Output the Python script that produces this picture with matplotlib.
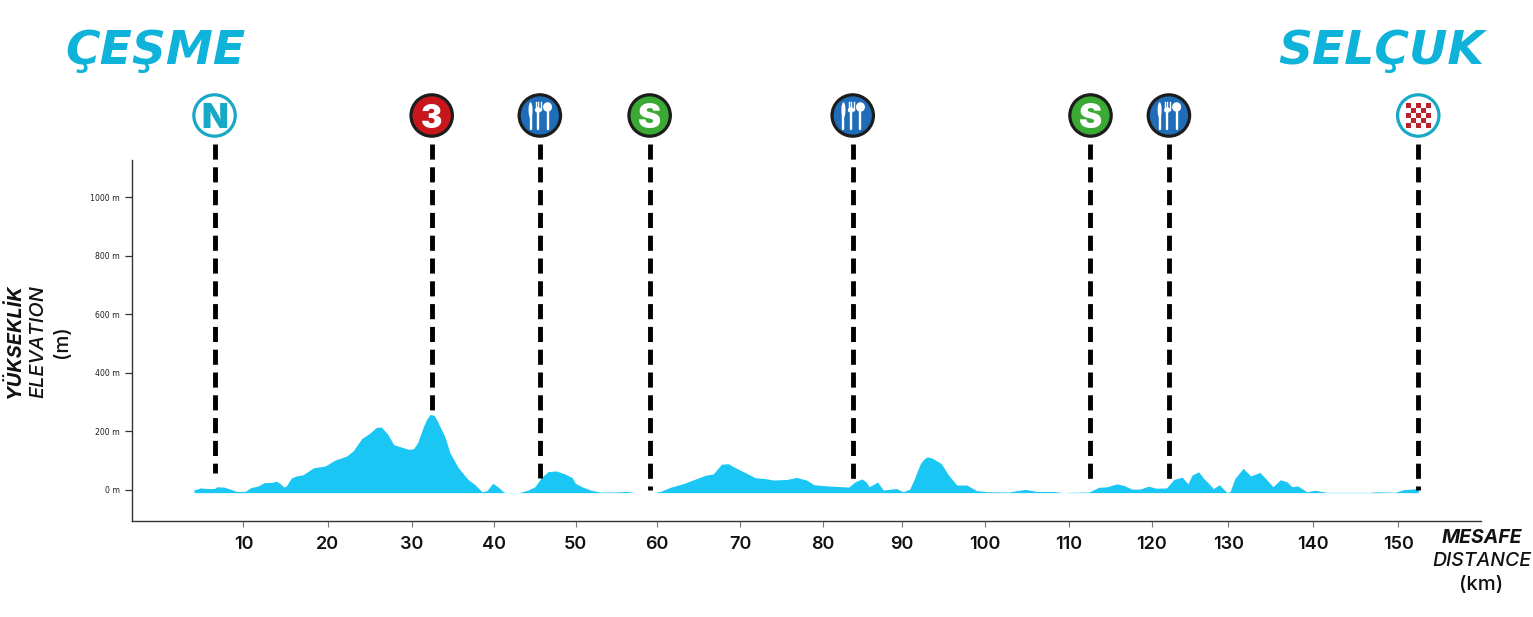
"""Etap yükseklik profili: Çeşme - Selçuk."""

import matplotlib

matplotlib.use("Agg")

import matplotlib.pyplot as plt
from matplotlib.patches import Circle, Ellipse, Rectangle

distance_km = [
    4.0, 4.8, 5.7, 6.5, 6.8, 7.6, 8.4, 9.2, 10.2, 10.9, 11.8, 12.5, 13.4, 14.0, 14.4, 14.9,
    15.2, 15.8, 16.4, 17.2, 18.5, 19.9, 21.0, 22.5, 23.3, 24.3, 25.3, 26.1, 26.7, 27.5, 28.2,
    29.2, 30.0, 30.6, 31.1, 31.8, 32.2, 32.6, 33.1, 33.5, 33.8, 34.4, 35.0, 36.0, 37.2, 38.0, 38.9, 39.5,
    40.2, 40.9, 41.5, 42.3, 43.5, 44.5, 45.3, 46.1, 46.9, 47.9, 48.9, 49.8, 50.2, 51.0, 52.0,
    53.2, 54.8, 56.4, 57.4, 59.7, 60.5, 61.7, 63.3, 64.9, 65.9, 66.9, 67.9, 68.7, 69.6, 70.8,
    72.0, 73.2, 74.2, 75.8, 77.0, 78.2, 79.1, 80.7, 83.3, 84.1, 84.9, 85.4, 85.8, 86.8, 87.5,
    89.1, 89.9, 90.7, 91.2, 92.0, 92.4, 92.8, 93.2, 93.6, 94.5, 95.4, 96.4, 97.6, 98.8, 100.1, 102.7,
    104.7, 106.1, 108.1, 109.3, 110.1, 112.4, 113.6, 114.6, 115.8, 116.6, 117.6, 118.6, 119.6,
    120.6, 121.8, 122.7, 123.7, 124.4, 124.9, 125.7, 126.3, 127.5, 128.2, 129.1, 129.5, 130.1,
    131.1, 132.0, 133.1, 133.8, 134.7, 135.6, 136.4, 137.0, 137.7, 138.8, 139.8, 141.2, 146.5,
    147.3, 149.5, 150.5, 152.3,
]
elevation_m = [
    0, 7, 5, 5, 11, 10, 3, -5, -5, 8, 14, 25, 26, 30, 23, 10,
    14, 41, 48, 52, 76, 82, 101, 116, 134, 175, 194, 214, 215, 190, 155,
    146, 139, 141, 162, 217, 242, 258, 255, 235, 217, 182, 128, 77, 36, 19, -6, -2,
    23, 9, -7, -10, -8, 0, 11, 43, 63, 65, 55, 43, 23, 11, 0,
    -7, -7, -5, -9, -9, -5, 9, 22, 39, 50, 55, 88, 90, 76, 59,
    42, 39, 34, 36, 43, 34, 18, 14, 10, 28, 38, 28, 11, 27, 0,
    5, -6, 3, 34, 91, 105, 113, 111, 106, 91, 51, 17, 17, -2, -6, -7,
    2, -5, -5, -9, -8, -7, 9, 11, 21, 16, 3, 3, 13,
    6, 7, 36, 44, 21, 51, 62, 40, 5, 18, -8, -6, 40,
    74, 48, 60, 40, 11, 35, 28, 11, 14, -6, -1, -8, -8,
    -6, -8, 1, 5,
]

x_tick_km = [10, 20.2, 30.4, 40.35, 50.25, 60.05, 70.15, 80.15, 89.75, 99.85, 110, 120, 129.3, 139.6, 149.9]
x_tick_labels = ["10", "20", "30", "40", "50", "60", "70", "80", "90", "100", "110", "120", "130", "140", "150"]
y_tick_m = [0, 200, 400, 600, 800, 1000]
y_tick_labels = ["0 m", "200 m", "400 m", "600 m", "800 m", "1000 m"]

point_km = [6.5, 32.8, 45.9, 59.2, 83.8, 112.6, 122.1, 152.3]
point_floor_m = [58, 256, 41, 1, 27, 27, 34, 0]
point_kind = ["start", "climb", "food", "sprint", "food", "sprint", "food", "finish"]

WIDTH, HEIGHT = 1533, 617
FILL = "#1AC6F4"
TITLE = "#0FB2D9"
RING = "#17A9C6"
DARK = "#1C1C1C"
FONT = "Inter"
BASE_M = -9
LINE_TOP_M = 1183
ICON_Y = 115.5


def draw_cutlery(overlay, cx, cy):
    # bıçak
    overlay.add_patch(Ellipse((cx - 9.3, cy - 5.5), 4, 15.5, color="white", lw=0, zorder=6))
    overlay.plot([cx - 9.3, cx - 9.3], [cy - 3, cy + 13.5], color="white", lw=1.7, zorder=6, solid_capstyle="round")
    # çatal
    for offset in (-2.5, 0, 2.5):
        overlay.plot([cx - 1.7 + offset, cx - 1.7 + offset], [cy - 13.5, cy - 6], color="white", lw=1.0, zorder=6)
    overlay.add_patch(Ellipse((cx - 1.7, cy - 5.5), 6.4, 5.5, color="white", lw=0, zorder=6))
    overlay.plot([cx - 1.7, cx - 1.7], [cy - 4, cy + 13.5], color="white", lw=1.7, zorder=6, solid_capstyle="round")
    # kaşık
    overlay.add_patch(Ellipse((cx + 7.7, cy - 8.5), 9, 9.5, color="white", lw=0, zorder=6))
    overlay.plot([cx + 7.7, cx + 7.7], [cy - 6, cy + 13.5], color="white", lw=1.7, zorder=6, solid_capstyle="round")


def draw_checker(overlay, cx, cy):
    size = 5.1
    for row in range(5):
        for col in range(5):
            if (row + col) % 2 == 0:
                overlay.add_patch(
                    Rectangle(
                        (cx - 12.75 + col * size, cy - 12.75 + row * size),
                        size,
                        size,
                        color="#B8232E",
                        lw=0,
                        zorder=6,
                    )
                )


def draw_icon(overlay, cx, kind):
    faces = {"start": "white", "finish": "white", "climb": "#C8171C", "food": "#1F6DB8", "sprint": "#3AAA35"}
    edge = RING if kind in ("start", "finish") else DARK
    overlay.add_patch(Circle((cx, ICON_Y), 20.7, facecolor=faces[kind], edgecolor=edge, lw=2.3, zorder=5))

    if kind == "start":
        overlay.text(cx, ICON_Y + 0.5, "N", color=RING, fontsize=25, fontweight="black", family=FONT,
                     ha="center", va="center_baseline", zorder=6)
    elif kind == "climb":
        overlay.text(cx, ICON_Y + 0.5, "3", color="white", fontsize=23, fontweight="black", family=FONT,
                     ha="center", va="center_baseline", zorder=6)
    elif kind == "sprint":
        overlay.text(cx, ICON_Y + 0.5, "S", color="white", fontsize=25, fontweight="black", family=FONT,
                     ha="center", va="center_baseline", zorder=6)
    elif kind == "food":
        draw_cutlery(overlay, cx, ICON_Y)
    else:
        draw_checker(overlay, cx, ICON_Y)


def main():
    fig = plt.figure(figsize=(WIDTH / 100, HEIGHT / 100), dpi=100)
    ax = fig.add_axes([132 / WIDTH, 1 - 521 / HEIGHT, (1481 - 132) / WIDTH, (521 - 160) / HEIGHT])
    ax.set_xlim(-3.5, 159.9)
    ax.set_ylim(-106, 1128)

    ax.fill_between(distance_km, elevation_m, BASE_M, color=FILL, lw=0, zorder=2)

    for km, floor in zip(point_km, point_floor_m):
        ax.plot([km, km], [LINE_TOP_M, floor], color="black", lw=3.5, dashes=(3.11, 1.58),
                dash_capstyle="butt", clip_on=False, zorder=3)

    for side in ("top", "right"):
        ax.spines[side].set_visible(False)
    for side in ("left", "bottom"):
        ax.spines[side].set_color("#333333")
        ax.spines[side].set_linewidth(1.0)

    ax.set_xticks(x_tick_km, x_tick_labels, fontsize=13, family=FONT, fontweight="semibold", color="#111111")
    ax.set_yticks(y_tick_m, y_tick_labels, fontsize=5.6, family="DejaVu Sans", color="#222222")
    ax.tick_params(axis="x", length=4.5, width=0.8, color="#777777", pad=6)
    ax.tick_params(axis="y", length=5, width=0.9, color="#333333", pad=3.5)

    overlay = fig.add_axes([0, 0, 1, 1], zorder=5)
    overlay.set_xlim(0, WIDTH)
    overlay.set_ylim(HEIGHT, 0)
    overlay.axis("off")

    for km, kind in zip(point_km, point_kind):
        cx = ax.transData.transform((km, 0))[0]
        draw_icon(overlay, cx, kind)

    title_style = dict(color=TITLE, fontsize=34, fontweight="bold", fontstyle="oblique", family="DejaVu Sans",
                       va="baseline", ha="center")
    overlay.text(155, 64, "ÇEŞME", **title_style)
    overlay.text(1381, 64, "SELÇUK", **title_style)

    overlay.text(1481.5, 538, "MESAFE", ha="center", va="center", fontsize=14, fontweight="bold",
                 fontstyle="italic", family=FONT, color="#111111")
    overlay.text(1481.5, 561, "DISTANCE", ha="center", va="center", fontsize=14, fontweight="medium",
                 fontstyle="italic", family=FONT, color="#111111")
    overlay.text(1481.5, 585, "(km)", ha="center", va="center", fontsize=14.5, fontweight="medium",
                 family=FONT, color="#111111")

    overlay.text(15, 341.5, "YÜKSEKLİK", rotation=90, ha="center", va="center", fontsize=14.4, fontweight="bold",
                 fontstyle="italic", family=FONT, color="#111111")
    overlay.text(38, 341.5, "ELEVATION", rotation=90, ha="center", va="center", fontsize=14.4, fontweight="medium",
                 fontstyle="italic", family=FONT, color="#111111")
    overlay.text(62, 341.5, "(m)", rotation=90, ha="center", va="center", fontsize=14.5, fontweight="medium",
                 family=FONT, color="#111111")

    fig.savefig("out.png", dpi=100, facecolor="white")
    plt.close(fig)


main()
